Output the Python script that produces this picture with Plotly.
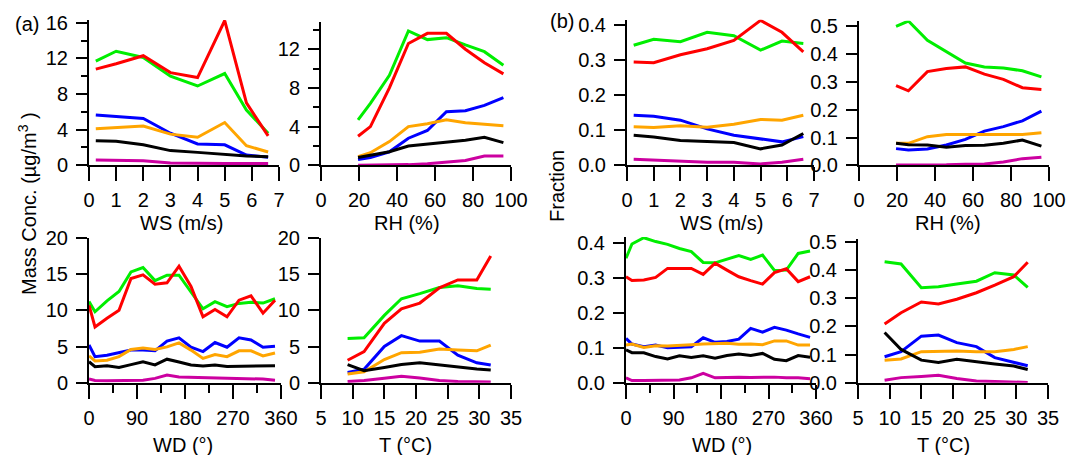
import plotly.graph_objects as go

W, H = 1067, 455

# ---------------- data ----------------
ws_bins = [0.25, 1, 2, 3, 4, 5, 5.8, 6.6]
rh_bins = [19.5, 26, 36, 46, 56, 66, 76, 86, 96]
wd_bins = [0, 11.25, 33.75, 56.25, 78.75, 101.25, 123.75, 146.25, 168.75,
           191.25, 213.75, 236.25, 258.75, 281.25, 303.75, 326.25, 348.75]
t_bins = [9.2, 11.8, 15.0, 17.7, 20.6, 23.7, 26.6, 29.6, 31.8]

species = ["Org", "SO4", "NO3", "NH4", "BC", "Chl"]
colors = ["#00EE00", "#FF0000", "#0000FF", "#FFA500", "#000000", "#CC00A0"]

# (a) mass concentration vs WS
a_ws_org = [11.7, 12.8, 12.1, 10.0, 8.9, 10.3, 6.2, 3.6]
a_ws_so4 = [10.8, 11.4, 12.3, 10.4, 9.85, 16.25, 7.0, 3.3]
a_ws_no3 = [5.65, 5.45, 5.25, 3.6, 2.4, 2.3, 1.15, 0.9]
a_ws_nh4 = [4.1, 4.2, 4.4, 3.5, 3.15, 4.8, 2.2, 1.5]
a_ws_bc = [2.75, 2.7, 2.3, 1.65, 1.45, 1.2, 1.05, 0.95]
a_ws_chl = [0.6, 0.55, 0.5, 0.25, 0.2, 0.2, 0.2, 0.2]

# (a) mass concentration vs RH
a_rh_org = [4.7, 6.4, 9.3, 13.9, 13.0, 13.2, 12.45, 11.75, 10.35]
a_rh_so4 = [3.0, 4.0, 8.0, 12.6, 13.65, 13.65, 12.0, 10.6, 9.45]
a_rh_no3 = [0.6, 0.8, 1.4, 2.8, 3.6, 5.55, 5.65, 6.2, 7.0]
a_rh_nh4 = [0.9, 1.3, 2.45, 4.0, 4.3, 4.7, 4.4, 4.25, 4.1]
a_rh_bc = [0.8, 1.05, 1.4, 2.0, 2.2, 2.45, 2.6, 2.9, 2.35]
a_rh_chl = [0.0, 0.0, 0.05, 0.07, 0.15, 0.3, 0.5, 0.95, 0.95]

# (a) mass concentration vs WD
a_wd_org = [11.2, 9.8, 11.3, 12.6, 15.3, 15.9, 14.1, 14.85, 14.85, 12.55, 10.2, 11.2, 10.5, 10.95, 11.1, 11.0, 11.6]
a_wd_so4 = [10.7, 7.7, 8.9, 10.0, 14.4, 14.9, 13.6, 13.8, 16.1, 13.3, 9.1, 10.1, 9.1, 11.4, 12.0, 9.6, 11.4]
a_wd_no3 = [5.2, 3.6, 3.8, 4.1, 4.5, 4.5, 4.4, 5.75, 6.2, 4.9, 4.3, 5.55, 4.9, 6.2, 5.9, 4.9, 5.05]
a_wd_nh4 = [3.7, 3.0, 3.1, 3.6, 4.6, 4.8, 4.6, 4.95, 5.5, 4.5, 3.35, 3.9, 3.6, 4.4, 4.4, 3.7, 4.1]
a_wd_bc = [2.9, 2.2, 2.35, 2.1, 2.5, 2.9, 2.45, 3.25, 2.85, 2.45, 2.3, 2.45, 2.25, 2.3, 2.35, 2.35, 2.35]
a_wd_chl = [0.5, 0.3, 0.27, 0.27, 0.27, 0.35, 0.6, 1.05, 0.8, 0.75, 0.7, 0.75, 0.6, 0.65, 0.6, 0.5, 0.35]

# (a) mass concentration vs T
a_t_org = [6.1, 6.2, 9.3, 11.6, 12.3, 13.15, 13.4, 13.0, 12.9]
a_t_so4 = [3.1, 4.3, 8.2, 10.2, 11.0, 13.1, 14.2, 14.2, 17.5]
a_t_no3 = [1.4, 1.85, 5.0, 6.5, 5.75, 5.75, 3.8, 2.75, 2.45]
a_t_nh4 = [1.2, 1.5, 3.2, 4.15, 4.2, 4.65, 4.5, 4.4, 5.2]
a_t_bc = [2.5, 1.65, 2.1, 2.5, 2.75, 2.45, 2.1, 1.9, 1.75]
a_t_chl = [0.15, 0.3, 0.6, 0.9, 0.65, 0.3, 0.15, 0.1, 0.1]

# (b) fraction vs WS
b_ws_org = [0.343, 0.36, 0.353, 0.38, 0.37, 0.329, 0.355, 0.348]
b_ws_so4 = [0.295, 0.293, 0.316, 0.333, 0.357, 0.414, 0.38, 0.324]
b_ws_no3 = [0.143, 0.14, 0.129, 0.104, 0.086, 0.076, 0.067, 0.082]
b_ws_nh4 = [0.11, 0.108, 0.113, 0.109, 0.117, 0.131, 0.129, 0.143]
b_ws_bc = [0.086, 0.081, 0.071, 0.067, 0.065, 0.047, 0.058, 0.091]
b_ws_chl = [0.017, 0.015, 0.013, 0.009, 0.009, 0.004, 0.009, 0.017]

# (b) fraction vs RH
b_rh_org = [0.5, 0.519, 0.45, 0.408, 0.368, 0.354, 0.35, 0.34, 0.318]
b_rh_so4 = [0.287, 0.268, 0.337, 0.348, 0.354, 0.328, 0.309, 0.279, 0.273]
b_rh_no3 = [0.06, 0.055, 0.059, 0.073, 0.093, 0.123, 0.139, 0.16, 0.195]
b_rh_nh4 = [0.079, 0.079, 0.103, 0.111, 0.111, 0.111, 0.111, 0.111, 0.117]
b_rh_bc = [0.079, 0.074, 0.073, 0.065, 0.071, 0.072, 0.079, 0.091, 0.069]
b_rh_chl = [0.001, 0.001, 0.002, 0.002, 0.004, 0.005, 0.012, 0.024, 0.029]

# (b) fraction vs WD
b_wd_org = [0.357, 0.398, 0.416, 0.405, 0.397, 0.385, 0.376, 0.345, 0.344, 0.354, 0.365, 0.354, 0.366, 0.322, 0.323, 0.371, 0.378]
b_wd_so4 = [0.304, 0.293, 0.295, 0.302, 0.328, 0.328, 0.328, 0.311, 0.343, 0.323, 0.304, 0.293, 0.283, 0.316, 0.327, 0.29, 0.304]
b_wd_no3 = [0.127, 0.111, 0.103, 0.108, 0.1, 0.101, 0.103, 0.129, 0.116, 0.118, 0.125, 0.156, 0.145, 0.159, 0.151, 0.14, 0.13]
b_wd_nh4 = [0.108, 0.111, 0.101, 0.106, 0.105, 0.108, 0.109, 0.111, 0.113, 0.113, 0.11, 0.111, 0.109, 0.12, 0.12, 0.108, 0.108]
b_wd_bc = [0.094, 0.086, 0.086, 0.075, 0.068, 0.077, 0.072, 0.077, 0.07, 0.078, 0.082, 0.078, 0.084, 0.067, 0.063, 0.078, 0.073]
b_wd_chl = [0.014, 0.006, 0.006, 0.007, 0.007, 0.008, 0.014, 0.027, 0.014, 0.016, 0.016, 0.015, 0.016, 0.016, 0.014, 0.014, 0.011]

# (b) fraction vs T
b_t_org = [0.429, 0.421, 0.337, 0.34, 0.35, 0.36, 0.39, 0.382, 0.338]
b_t_so4 = [0.208, 0.248, 0.286, 0.279, 0.296, 0.319, 0.346, 0.376, 0.427]
b_t_no3 = [0.092, 0.11, 0.165, 0.169, 0.142, 0.128, 0.089, 0.072, 0.06]
b_t_nh4 = [0.08, 0.084, 0.11, 0.112, 0.112, 0.11, 0.11, 0.118, 0.128]
b_t_bc = [0.178, 0.118, 0.08, 0.072, 0.083, 0.073, 0.066, 0.059, 0.047]
b_t_chl = [0.009, 0.018, 0.022, 0.026, 0.015, 0.006, 0.004, 0.001, 0.001]

# ---------------- layout helpers ----------------
FONT = "Liberation Sans, Arial, sans-serif"
FS = 20

# panel geometry in pixels: (x_left, x_right, y_zero_px, px_per_unit, y_top_value)
panels = [
    dict(xb=ws_bins, ys=[a_ws_org, a_ws_so4, a_ws_no3, a_ws_nh4, a_ws_bc, a_ws_chl],
         px=(89, 279), xr=[0, 7], xdt=1, xminor=None,
         y0=165.3, ppu=8.91, ytop=16.3, ydt=4, yminor=2, ytf=None),
    dict(xb=rh_bins, ys=[a_rh_org, a_rh_so4, a_rh_no3, a_rh_nh4, a_rh_bc, a_rh_chl],
         px=(321, 511), xr=[0, 100], xdt=20, xminor=None,
         y0=165.3, ppu=9.67, ytop=14.8, ydt=4, yminor=2, ytf=None),
    dict(xb=ws_bins, ys=[b_ws_org, b_ws_so4, b_ws_no3, b_ws_nh4, b_ws_bc, b_ws_chl],
         px=(627, 814), xr=[0, 7], xdt=1, xminor=None,
         y0=165.3, ppu=350, ytop=0.416, ydt=0.1, yminor=None, ytf=".1f"),
    dict(xb=rh_bins, ys=[b_rh_org, b_rh_so4, b_rh_no3, b_rh_nh4, b_rh_bc, b_rh_chl],
         px=(859, 1049), xr=[0, 100], xdt=20, xminor=None,
         y0=165.3, ppu=278, ytop=0.52, ydt=0.1, yminor=None, ytf=".1f"),
    dict(xb=wd_bins, ys=[a_wd_org, a_wd_so4, a_wd_no3, a_wd_nh4, a_wd_bc, a_wd_chl],
         px=(89, 281), xr=[0, 360], xdt=90, xminor=45,
         y0=382.7, ppu=7.24, ytop=20, ydt=5, yminor=None, ytf=None),
    dict(xb=t_bins, ys=[a_t_org, a_t_so4, a_t_no3, a_t_nh4, a_t_bc, a_t_chl],
         px=(321, 511), xr=[5, 35], xdt=5, xminor=None,
         y0=382.7, ppu=7.24, ytop=20, ydt=5, yminor=None, ytf=None),
    dict(xb=wd_bins, ys=[b_wd_org, b_wd_so4, b_wd_no3, b_wd_nh4, b_wd_bc, b_wd_chl],
         px=(626, 816), xr=[0, 360], xdt=90, xminor=45,
         y0=382.7, ppu=348.5, ytop=0.418, ydt=0.1, yminor=None, ytf=".1f"),
    dict(xb=t_bins, ys=[b_t_org, b_t_so4, b_t_no3, b_t_nh4, b_t_bc, b_t_chl],
         px=(858, 1048), xr=[5, 35], xdt=5, xminor=None,
         y0=382.7, ppu=282, ytop=0.508, ydt=0.1, yminor=None, ytf=".1f"),
]

fig = go.Figure()
layout = dict(width=W, height=H, margin=dict(l=0, r=0, t=0, b=0),
              paper_bgcolor="white", plot_bgcolor="white", showlegend=False,
              font=dict(family=FONT, size=FS, color="black"))

for i, p in enumerate(panels, start=1):
    xa = "xaxis" if i == 1 else f"xaxis{i}"
    ya = "yaxis" if i == 1 else f"yaxis{i}"
    xref = "x" if i == 1 else f"x{i}"
    yref = "y" if i == 1 else f"y{i}"
    top_px = p["y0"] - p["ytop"] * p["ppu"]
    xd = [p["px"][0] / W, p["px"][1] / W]
    yd = [1 - p["y0"] / H, 1 - top_px / H]
    xax = dict(domain=xd, range=p["xr"], anchor=yref, showline=True, linecolor="black",
               linewidth=2, ticks="outside", ticklen=14, tickwidth=2, tickcolor="black",
               dtick=p["xdt"], tick0=0 if p["xr"][0] == 0 else 5, showgrid=False,
               zeroline=False, tickfont=dict(size=FS, family=FONT), automargin=False,
               ticklabelstandoff=2)
    if p["xminor"]:
        xax["minor"] = dict(dtick=p["xminor"], ticks="outside", ticklen=8, tickwidth=2,
                            tickcolor="black", showgrid=False)
    yax = dict(domain=yd, range=[0, p["ytop"]], anchor=xref, showline=True, linecolor="black",
               linewidth=2, ticks="outside", ticklen=11, tickwidth=2, tickcolor="black",
               dtick=p["ydt"], tick0=0, showgrid=False, zeroline=False,
               tickfont=dict(size=FS, family=FONT), automargin=False, ticklabelstandoff=4)
    if p["ytf"]:
        yax["tickformat"] = p["ytf"]
    if p["yminor"]:
        yax["minor"] = dict(dtick=p["yminor"], ticks="outside", ticklen=6, tickwidth=2,
                            tickcolor="black", showgrid=False)
    layout[xa] = xax
    layout[ya] = yax
    for name, col, yv in zip(species, colors, p["ys"]):
        fig.add_trace(go.Scatter(x=p["xb"], y=yv, mode="lines", name=name,
                                 line=dict(color=col, width=3), xaxis=xref, yaxis=yref))

def ann(text, xp, yp, angle=0, size=FS):
    return dict(text=text, x=xp / W, y=1 - yp / H, xref="paper", yref="paper",
                showarrow=False, xanchor="center", yanchor="middle", textangle=angle,
                font=dict(size=size, family=FONT, color="black"))

annotations = [
    ann("WS (m/s)", 181, 223), ann("RH (%)", 407, 223),
    ann("WS (m/s)", 721, 223), ann("RH (%)", 948, 223),
    ann("WD (°)", 183, 445), ann("T (°C)", 405, 445),
    ann("WD (°)", 722, 445), ann("T (°C)", 943, 445),
    ann("Mass Conc. (µg/m<sup>3</sup> )", 28, 204, angle=-90),
    ann("Fraction", 557, 186, angle=-90),
    ann("(a)", 27, 24), ann("(b)", 562, 21),
]
layout["annotations"] = annotations
fig.update_layout(**layout)
fig.write_html("out.html", config={"displayModeBar": False},
               post_script="document.body.style.margin='0';document.body.style.padding='0';")
